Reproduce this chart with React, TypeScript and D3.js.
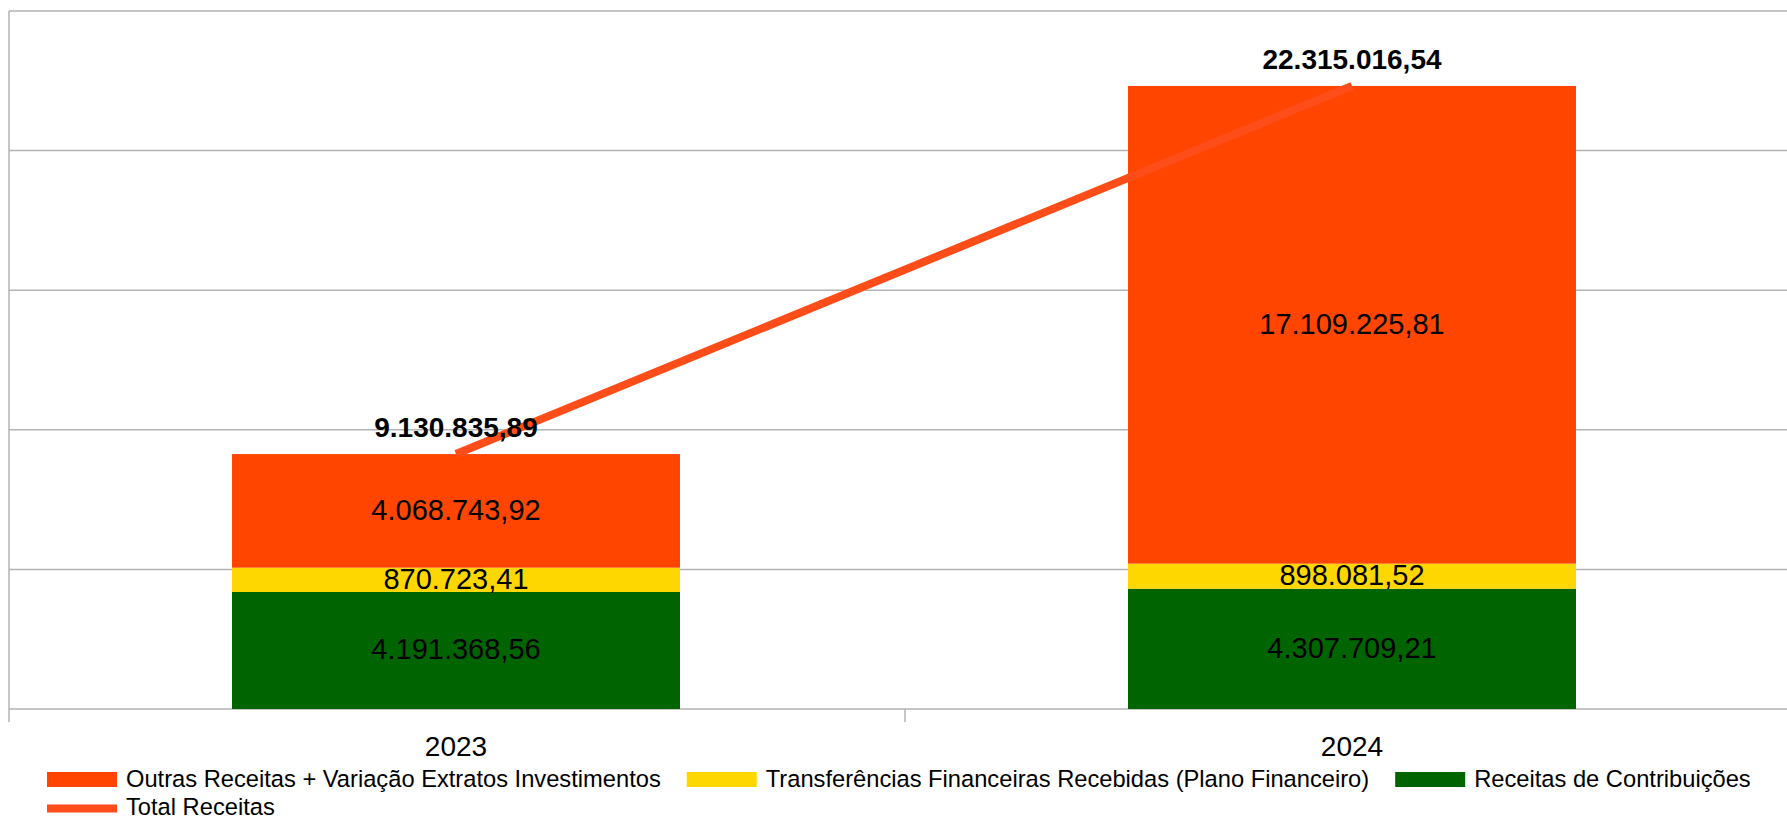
import React, { useRef, useEffect } from "react";
import * as d3 from "d3";

// Chart data
const categories = ["2023", "2024"];
const receitasContribuicoes = [4191368.56, 4307709.21];
const transferencias = [870723.41, 898081.52];
const outrasReceitas = [4068743.92, 17109225.81];
const totalReceitas = [9130835.89, 22315016.54];
const yTicks = [0, 5000000, 10000000, 15000000, 20000000, 25000000];

const seriesNames = [
  "Receitas de Contribuições",
  "Transferências Financeiras Recebidas (Plano Financeiro)",
  "Outras Receitas + Variação Extratos Investimentos",
];
const seriesColors = ["#006400", "#ffd700", "#ff4500"];
const lineName = "Total Receitas";
const lineColor = "#ff4d1a";

const WIDTH = 1787;
const HEIGHT = 819;
const FONT = "'Liberation Sans', Arial, sans-serif";

const ptBR = d3.formatLocale({
  decimal: ",",
  thousands: ".",
  grouping: [3],
  currency: ["R$", ""],
});
const fmt = ptBR.format(",.2f");

const App = () => {
  const svgRef = useRef<SVGSVGElement>(null);

  useEffect(() => {
    const margin = { top: 11, bottom: 110, left: 8 };
    const plotRight = 1800;
    const plotBottom = HEIGHT - margin.bottom;

    const svg = d3.select(svgRef.current);
    svg.selectAll("*").remove();

    const rows = categories.map((c, i) => ({
      cat: c,
      s0: receitasContribuicoes[i],
      s1: transferencias[i],
      s2: outrasReceitas[i],
      total: totalReceitas[i],
    }));

    const x = d3
      .scaleBand()
      .domain(categories)
      .range([margin.left, plotRight])
      .padding(0);

    const y = d3
      .scaleLinear()
      .domain([0, 25000000])
      .range([plotBottom, margin.top]);

    const barW = x.bandwidth() * 0.5;
    const cx = (c: string) => (x(c) as number) + x.bandwidth() / 2;

    // Gridlines
    svg
      .append("g")
      .selectAll("line")
      .data(yTicks)
      .join("line")
      .attr("x1", margin.left + 1)
      .attr("x2", WIDTH)
      .attr("y1", (d) => y(d))
      .attr("y2", (d) => y(d))
      .attr("stroke", "#b3b3b3")
      .attr("stroke-width", 1.5);

    // Left axis line
    svg
      .append("line")
      .attr("x1", margin.left + 1)
      .attr("x2", margin.left + 1)
      .attr("y1", margin.top)
      .attr("y2", plotBottom + 13)
      .attr("stroke", "#b3b3b3")
      .attr("stroke-width", 1.5);

    // Category ticks (between bands)
    svg
      .append("g")
      .selectAll("line")
      .data(categories.slice(1))
      .join("line")
      .attr("x1", (d) => (x(d) as number) + 1)
      .attr("x2", (d) => (x(d) as number) + 1)
      .attr("y1", plotBottom)
      .attr("y2", plotBottom + 13)
      .attr("stroke", "#b3b3b3")
      .attr("stroke-width", 1.5);

    // Stacked bars
    const stack = d3.stack<any>().keys(["s0", "s1", "s2"]);
    const stacked = stack(rows);

    const layers = svg
      .append("g")
      .selectAll("g")
      .data(stacked)
      .join("g")
      .attr("fill", (d, i) => seriesColors[i]);

    layers
      .selectAll("rect")
      .data((d) => d)
      .join("rect")
      .attr("x", (d) => cx(d.data.cat) - barW / 2)
      .attr("width", barW)
      .attr("y", (d) => y(d[1]))
      .attr("height", (d) => y(d[0]) - y(d[1]));

    // Labels inside segments
    layers
      .selectAll("text")
      .data((d) => d.map((p) => ({ p, key: d.key })))
      .join("text")
      .attr("x", (d) => cx(d.p.data.cat))
      .attr("y", (d) => (y(d.p[0]) + y(d.p[1])) / 2 + 9)
      .attr("text-anchor", "middle")
      .attr("font-family", FONT)
      .attr("font-size", 29)
      .attr("fill", "#000")
      .text((d) => fmt(d.p.data[d.key]));

    // Total line
    const line = d3
      .line<any>()
      .x((d) => cx(d.cat))
      .y((d) => y(d.total));

    svg
      .append("path")
      .datum(rows)
      .attr("d", line)
      .attr("fill", "none")
      .attr("stroke", lineColor)
      .attr("stroke-width", 8);

    // Total labels
    svg
      .append("g")
      .selectAll("text")
      .data(rows)
      .join("text")
      .attr("x", (d) => cx(d.cat))
      .attr("y", (d) => y(d.total) - 17)
      .attr("text-anchor", "middle")
      .attr("font-family", FONT)
      .attr("font-size", 28)
      .attr("font-weight", "bold")
      .attr("fill", "#000")
      .text((d) => fmt(d.total));

    // Category labels
    svg
      .append("g")
      .selectAll("text")
      .data(categories)
      .join("text")
      .attr("x", (d) => cx(d))
      .attr("y", plotBottom + 47)
      .attr("text-anchor", "middle")
      .attr("font-family", FONT)
      .attr("font-size", 28)
      .attr("fill", "#000")
      .text((d) => d);

    // Legend, first row: bar series from top to bottom
    const legend = svg.append("g");
    let lx = 47;
    const row1 = [2, 1, 0];
    row1.forEach((i) => {
      legend
        .append("rect")
        .attr("x", lx)
        .attr("y", 772)
        .attr("width", 70)
        .attr("height", 15)
        .attr("fill", seriesColors[i]);
      const t = legend
        .append("text")
        .attr("x", lx + 79)
        .attr("y", 787)
        .attr("font-family", FONT)
        .attr("font-size", 23.7)
        .attr("fill", "#000")
        .text(seriesNames[i]);
      const w = (t.node() as SVGTextElement).getComputedTextLength();
      lx += 79 + w + 26;
    });

    // Legend, second row: line series
    legend
      .append("line")
      .attr("x1", 47)
      .attr("x2", 117)
      .attr("y1", 808.5)
      .attr("y2", 808.5)
      .attr("stroke", lineColor)
      .attr("stroke-width", 8);
    legend
      .append("text")
      .attr("x", 126)
      .attr("y", 815)
      .attr("font-family", FONT)
      .attr("font-size", 23.7)
      .attr("fill", "#000")
      .text(lineName);
  }, []);

  return (
    <svg
      ref={svgRef}
      width={WIDTH}
      height={HEIGHT}
      style={{ position: "absolute", left: 0, top: 0, background: "#fff" }}
    ></svg>
  );
};

export default App;
